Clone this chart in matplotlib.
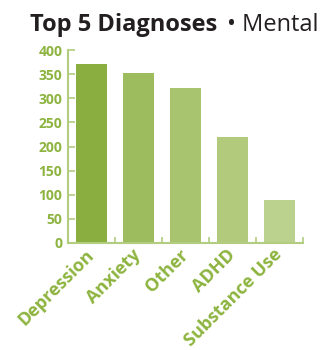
import matplotlib.pyplot as plt

# Top 5 mental health diagnoses
diagnoses = ['Depression', 'Anxiety', 'Other', 'ADHD', 'Substance Use']
counts = [371, 352, 321, 220, 89]
bar_colors = ['#8aaf40', '#9cbc5e', '#a8c46f', '#b1ca7c', '#bbd28e']
y_ticks = [0, 50, 100, 150, 200, 250, 300, 350, 400]

green = '#8db43f'
spine_green = '#b3cd80'

fig = plt.figure(figsize=(3.21, 3.5), dpi=100)
ax = fig.add_axes([68 / 321, 1 - 243 / 350, 235 / 321, 193 / 350])

x = list(range(len(diagnoses)))
ax.bar(x, counts, width=0.66, color=bar_colors)

ax.set_xlim(-0.5, 4.5)
ax.set_ylim(0, 400)

# y axis: ticks pointing into the plot
ax.set_yticks(y_ticks)
ax.tick_params(axis='y', direction='in', length=5, width=1.2, color=spine_green,
               labelcolor=green, labelsize=10, pad=4)
for lbl in ax.get_yticklabels():
    lbl.set_fontweight('bold')
    lbl.set_family('Open Sans')

# x axis: small ticks between the bars, labels ending at the bar centre
ax.set_xticks([i + 0.5 for i in x], minor=True)
ax.set_xticks(x)
ax.set_xticklabels(diagnoses, rotation=45, ha='right', va='center',
                   rotation_mode='anchor', fontsize=13, fontweight='bold',
                   color=green, family='Open Sans')
ax.tick_params(axis='x', which='major', length=0, pad=6.5)
ax.tick_params(axis='x', which='minor', direction='in', length=4, width=1.2,
               color=spine_green)

for side in ['top', 'right']:
    ax.spines[side].set_visible(False)
for side in ['left', 'bottom']:
    ax.spines[side].set_color(spine_green)
    ax.spines[side].set_linewidth(1.5)

# title: bold part plus regular part
fig.text(0.095, 1 - 31 / 350, 'Top 5 Diagnoses', fontsize=17, fontweight='bold',
         color='#231f20', family='Open Sans', ha='left', va='baseline')
fig.text(0.708, 1 - 31 / 350, '\u2022 Mental', fontsize=17,
         color='#231f20', family='Open Sans', ha='left', va='baseline')

plt.savefig('out.png', dpi=100)
